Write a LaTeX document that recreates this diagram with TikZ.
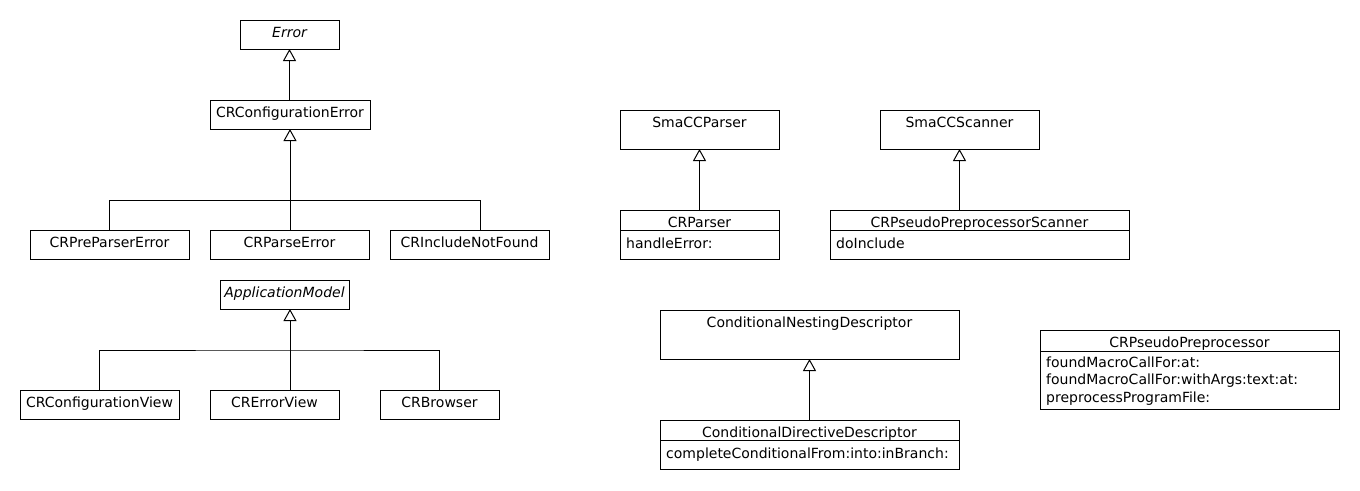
\documentclass[tikz,border=0pt]{standalone}
\usepackage{fontspec}
\setmainfont{DejaVu Sans}
\usetikzlibrary{arrows.meta,calc}

\begin{document}
\begin{tikzpicture}[x=1pt,y=-1pt,
  cls/.style={draw, line width=1pt, inner sep=0pt, outer sep=0pt, anchor=north west},
  title/.style={font=\fontsize{14}{16}\selectfont, inner sep=0pt, anchor=base},
  abstitle/.style={title, font=\fontsize{14}{16}\selectfont\itshape},
  meth/.style={font=\fontsize{14}{16}\selectfont, inner sep=0pt, anchor=base west},
  conn/.style={line width=1pt},
  inh/.style={conn, -{Triangle[length=12pt,width=13pt,fill=white,line width=1pt]}}]

\fill[white] (0,0) rectangle (1360,490);
\useasboundingbox (0,0) rectangle (1360,490);

% ---------- Error hierarchy ----------
\node[cls, minimum width=99pt, minimum height=29pt] (err) at (240,20) {};
\node[abstitle] (errT) at ($(err.north)+(0,17)$) {Error};
\node[cls, minimum width=160pt, minimum height=29pt] (cfgerr) at (210,100) {};
\node[title] (cfgerrT) at ($(cfgerr.north)+(0,17)$) {CRConfigurationError};
\node[cls, minimum width=159pt, minimum height=29pt] (ppe) at (30,230) {};
\node[title] (ppeT) at ($(ppe.north)+(0,17)$) {CRPreParserError};
\node[cls, minimum width=159pt, minimum height=29pt] (pe) at (210,230) {};
\node[title] (peT) at ($(pe.north)+(0,17)$) {CRParseError};
\node[cls, minimum width=159pt, minimum height=29pt] (inf) at (390,230) {};
\node[title] (infT) at ($(inf.north)+(0,17)$) {CRIncludeNotFound};

\coordinate (j1) at (290,200);
\coordinate (j1r) at (480,200);
\draw[inh] (cfgerr.north -| err.south) -- (err.south);
\draw[inh] (j1 |- pe.north) -- (j1 |- cfgerr.south);
\draw[conn] (ppe.north) |- (j1r) -- (j1r |- inf.north);

% ---------- ApplicationModel hierarchy ----------
\node[cls, minimum width=129pt, minimum height=29pt] (am) at (220,280) {};
\node[abstitle] (amT) at ($(am.north)+(0,17)$) {ApplicationModel};
\node[cls, minimum width=159pt, minimum height=29pt] (cv) at (20,390) {};
\node[title] (cvT) at ($(cv.north)+(0,17)$) {CRConfigurationView};
\node[cls, minimum width=129pt, minimum height=29pt] (ev) at (210,390) {};
\node[title] (evT) at ($(ev.north)+(0,17)$) {CRErrorView};
\node[cls, minimum width=119pt, minimum height=29pt] (br) at (380,390) {};
\node[title] (brT) at ($(br.north)+(0,17)$) {CRBrowser};

\coordinate (j2) at (290,350);
\draw[inh] (j2 |- ev.north) -- (j2 |- am.south);
\draw[conn] (cv.north) |- (j2) -| (br.north);

% ---------- SmaCCParser ----------
\node[cls, minimum width=159pt, minimum height=39pt] (sp) at (620,110) {};
\node[title] (spT) at ($(sp.north)+(0,17)$) {SmaCCParser};
\node[cls, minimum width=159pt, minimum height=49pt] (crp) at (620,210) {};
\node[title] (crpT) at ($(crp.north)+(0,17)$) {CRParser};
\draw[conn] ($(crp.north west)+(0,20.5)$) -- ($(crp.north east)+(0,20.5)$);
\node[meth] (crpM) at ($(crp.north west)+(6,38.5)$) {handleError:};
\draw[inh] (crp.north) -- (sp.south);

% ---------- SmaCCScanner ----------
\node[cls, minimum width=159pt, minimum height=39pt] (ss) at (880,110) {};
\node[title] (ssT) at ($(ss.north)+(0,17)$) {SmaCCScanner};
\node[cls, minimum width=299pt, minimum height=49pt] (pps) at (830,210) {};
\node[title] (ppsT) at ($(pps.north)+(0,17)$) {CRPseudoPreprocessorScanner};
\draw[conn] ($(pps.north west)+(0,20.5)$) -- ($(pps.north east)+(0,20.5)$);
\node[meth] (ppsM) at ($(pps.north west)+(6,38.5)$) {doInclude};
\draw[inh] (ss.south |- pps.north) -- (ss.south);

% ---------- Conditional descriptors ----------
\node[cls, minimum width=299pt, minimum height=49pt] (cnd) at (660,310) {};
\node[title] (cndT) at ($(cnd.north)+(0,17)$) {ConditionalNestingDescriptor};
\node[cls, minimum width=299pt, minimum height=49pt] (cdd) at (660,420) {};
\node[title] (cddT) at ($(cdd.north)+(0,17)$) {ConditionalDirectiveDescriptor};
\draw[conn] ($(cdd.north west)+(0,20.5)$) -- ($(cdd.north east)+(0,20.5)$);
\node[meth] (cddM) at ($(cdd.north west)+(6,38.5)$) {completeConditionalFrom:into:inBranch:};
\draw[inh] (cdd.north) -- (cnd.south);

% ---------- CRPseudoPreprocessor ----------
\node[cls, minimum width=299pt, minimum height=79pt] (cpp) at (1040,330) {};
\node[title] (cppT) at ($(cpp.north)+(0,17)$) {CRPseudoPreprocessor};
\draw[conn] ($(cpp.north west)+(0,21)$) -- ($(cpp.north east)+(0,21)$);
\node[meth] (cppM1) at ($(cpp.north west)+(6,37)$) {foundMacroCallFor:at:};
\node[meth] (cppM2) at ($(cpp.north west)+(6,54.5)$) {foundMacroCallFor:withArgs:text:at:};
\node[meth] (cppM3) at ($(cpp.north west)+(6,72)$) {preprocessProgramFile:};
\end{tikzpicture}
\end{document}
